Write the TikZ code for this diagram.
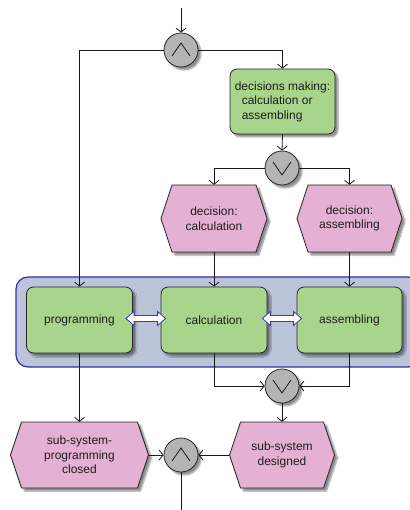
\documentclass[tikz,border=0pt]{standalone}
\usepackage{fontspec}
\setmainfont{Liberation Sans}
\usetikzlibrary{arrows.meta,calc,shadows.blur}
\definecolor{boxgreen}{RGB}{168,212,140}
\definecolor{hexpink}{RGB}{228,176,212}
\definecolor{gategray}{RGB}{180,180,180}
\definecolor{grpfill}{RGB}{188,196,218}
\definecolor{grpline}{RGB}{48,48,160}
\definecolor{dblline}{RGB}{60,60,175}
\definecolor{txtcol}{RGB}{30,30,30}
\newcommand\hexnode[6]{%
  \filldraw[evt] ({#2-#4/2},#3) -- ({#2-#4/2+11},{#3-#5/2}) -- ({#2+#4/2-11},{#3-#5/2})
    -- ({#2+#4/2},#3) -- ({#2+#4/2-11},{#3+#5/2}) -- ({#2-#4/2+11},{#3+#5/2}) -- cycle;
  \node[lbl, minimum width=#4, minimum height=#5] (#1) at (#2,#3) {#6};}
\newcommand\dblarr[2]{%
  \filldraw[dblarrow] (#1) -- ++(8,-7) -- ++(0,4) -- ($(#2)+(-8,-3)$) -- ++(0,-4) -- (#2)
    -- ++(-8,7) -- ++(0,-4) -- ($(#1)+(8,3)$) -- ++(0,4) -- cycle;}
\begin{document}
\begin{tikzpicture}[x=1pt,y=-1pt,
  shd/.style={blur shadow={shadow xshift=3pt,shadow yshift=-3pt,shadow blur radius=1.5pt,shadow blur steps=6,shadow opacity=45}},
  txtfont/.style={font=\fontsize{12}{14.5}\selectfont, text=txtcol},
  func/.style={draw=black!85, line width=0.8pt, fill=boxgreen, rounded corners=7pt,
    minimum width=106pt, minimum height=66pt, inner sep=0pt, shd, txtfont, align=center},
  gate/.style={circle, draw=black!85, line width=0.8pt, fill=gategray, minimum size=34pt, inner sep=0pt, shd},
  evt/.style={draw=black!85, line width=0.8pt, fill=hexpink, shd},
  lbl/.style={inner sep=0pt, txtfont, align=center},
  grp/.style={draw=grpline, fill=grpfill, line width=1.2pt, rounded corners=12pt, inner sep=0pt},
  flow/.style={draw=black!90, line width=0.8pt, -{Straight Barb[length=4pt,width=10pt]}},
  plain/.style={draw=black!90, line width=0.8pt},
  dblarrow/.style={draw=dblline, fill=white, line width=0.8pt, line join=miter},
  sym/.style={draw=black!90, line width=0.8pt}
]
\useasboundingbox (0,0) rectangle (409,510);

% group
\node[grp, minimum width=404pt, minimum height=90pt] (grp) at (218,322) {};

% gates
\node[gate] (and1) at (181,50) {};
\node[gate] (xor1) at (282,168) {};
\node[gate] (xor2) at (282,386) {};
\node[gate] (and2) at (181,455) {};
\draw[sym] ($(and1)+(-9,6)$) -- ($(and1)+(0,-7)$) -- ($(and1)+(9,6)$);
\draw[sym] ($(and2)+(-9,6)$) -- ($(and2)+(0,-7)$) -- ($(and2)+(9,6)$);
\draw[sym] ($(xor1)+(-9,-6)$) -- ($(xor1)+(0,7)$) -- ($(xor1)+(9,-6)$);
\draw[sym] ($(xor2)+(-9,-6)$) -- ($(xor2)+(0,7)$) -- ($(xor2)+(9,-6)$);

% functions
\node[func, minimum width=105pt, minimum height=65pt, align=left] (dm) at (282.5,101.5)
  {decisions making:\\\hspace*{7pt}calculation or\\\hspace*{7pt}assembling};
\node[func] (prog) at (79.5,320) {programming};
\node[func] (calc) at (214,320) {calculation};
\node[func, minimum width=105pt] (asm) at (349.5,320) {assembling};

% events
\hexnode{hc}{214}{218.5}{106}{67}{decision:\\calculation}
\hexnode{ha}{349.5}{218.5}{105}{67}{decision:\\assembling}
\hexnode{hsp}{79.5}{455}{138}{66}{sub-system-\\programming\\closed}
\hexnode{hsd}{282}{455}{105}{66}{sub-system\\designed}

% connectors
\coordinate (top) at (181,8);
\coordinate (bot) at (181,512);
\draw[flow] (top) -- (and1.north);
\draw[flow] (and1.west) -| (prog.north);
\draw[flow] (and1.east) -| (dm.north);
\draw[flow] (dm.south) -- (xor1.north);
\draw[flow] (xor1.west) -| (hc.north);
\draw[flow] (xor1.east) -| (ha.north);
\draw[flow] (hc.south) -- (calc.north);
\draw[flow] (ha.south) -- (asm.north);
\draw[flow] (prog.south) -- (hsp.north);
\draw[flow] (calc.south) |- (xor2.west);
\draw[flow] (asm.south) |- (xor2.east);
\draw[flow] (xor2.south) -- (hsd.north);
\draw[flow] (hsp.east) -- (and2.west);
\draw[flow] (hsd.west) -- (and2.east);
\draw[plain] (and2.south) -- (bot);

% double arrows
\coordinate (d1a) at ($(prog.east)+(-7,-1.5)$);
\coordinate (d1b) at ($(calc.west)+(5,-1.5)$);
\coordinate (d2a) at ($(calc.east)+(-5,-1.5)$);
\coordinate (d2b) at ($(asm.west)+(5,-1.5)$);
\dblarr{d1a}{d1b}
\dblarr{d2a}{d2b}
\end{tikzpicture}
\end{document}
